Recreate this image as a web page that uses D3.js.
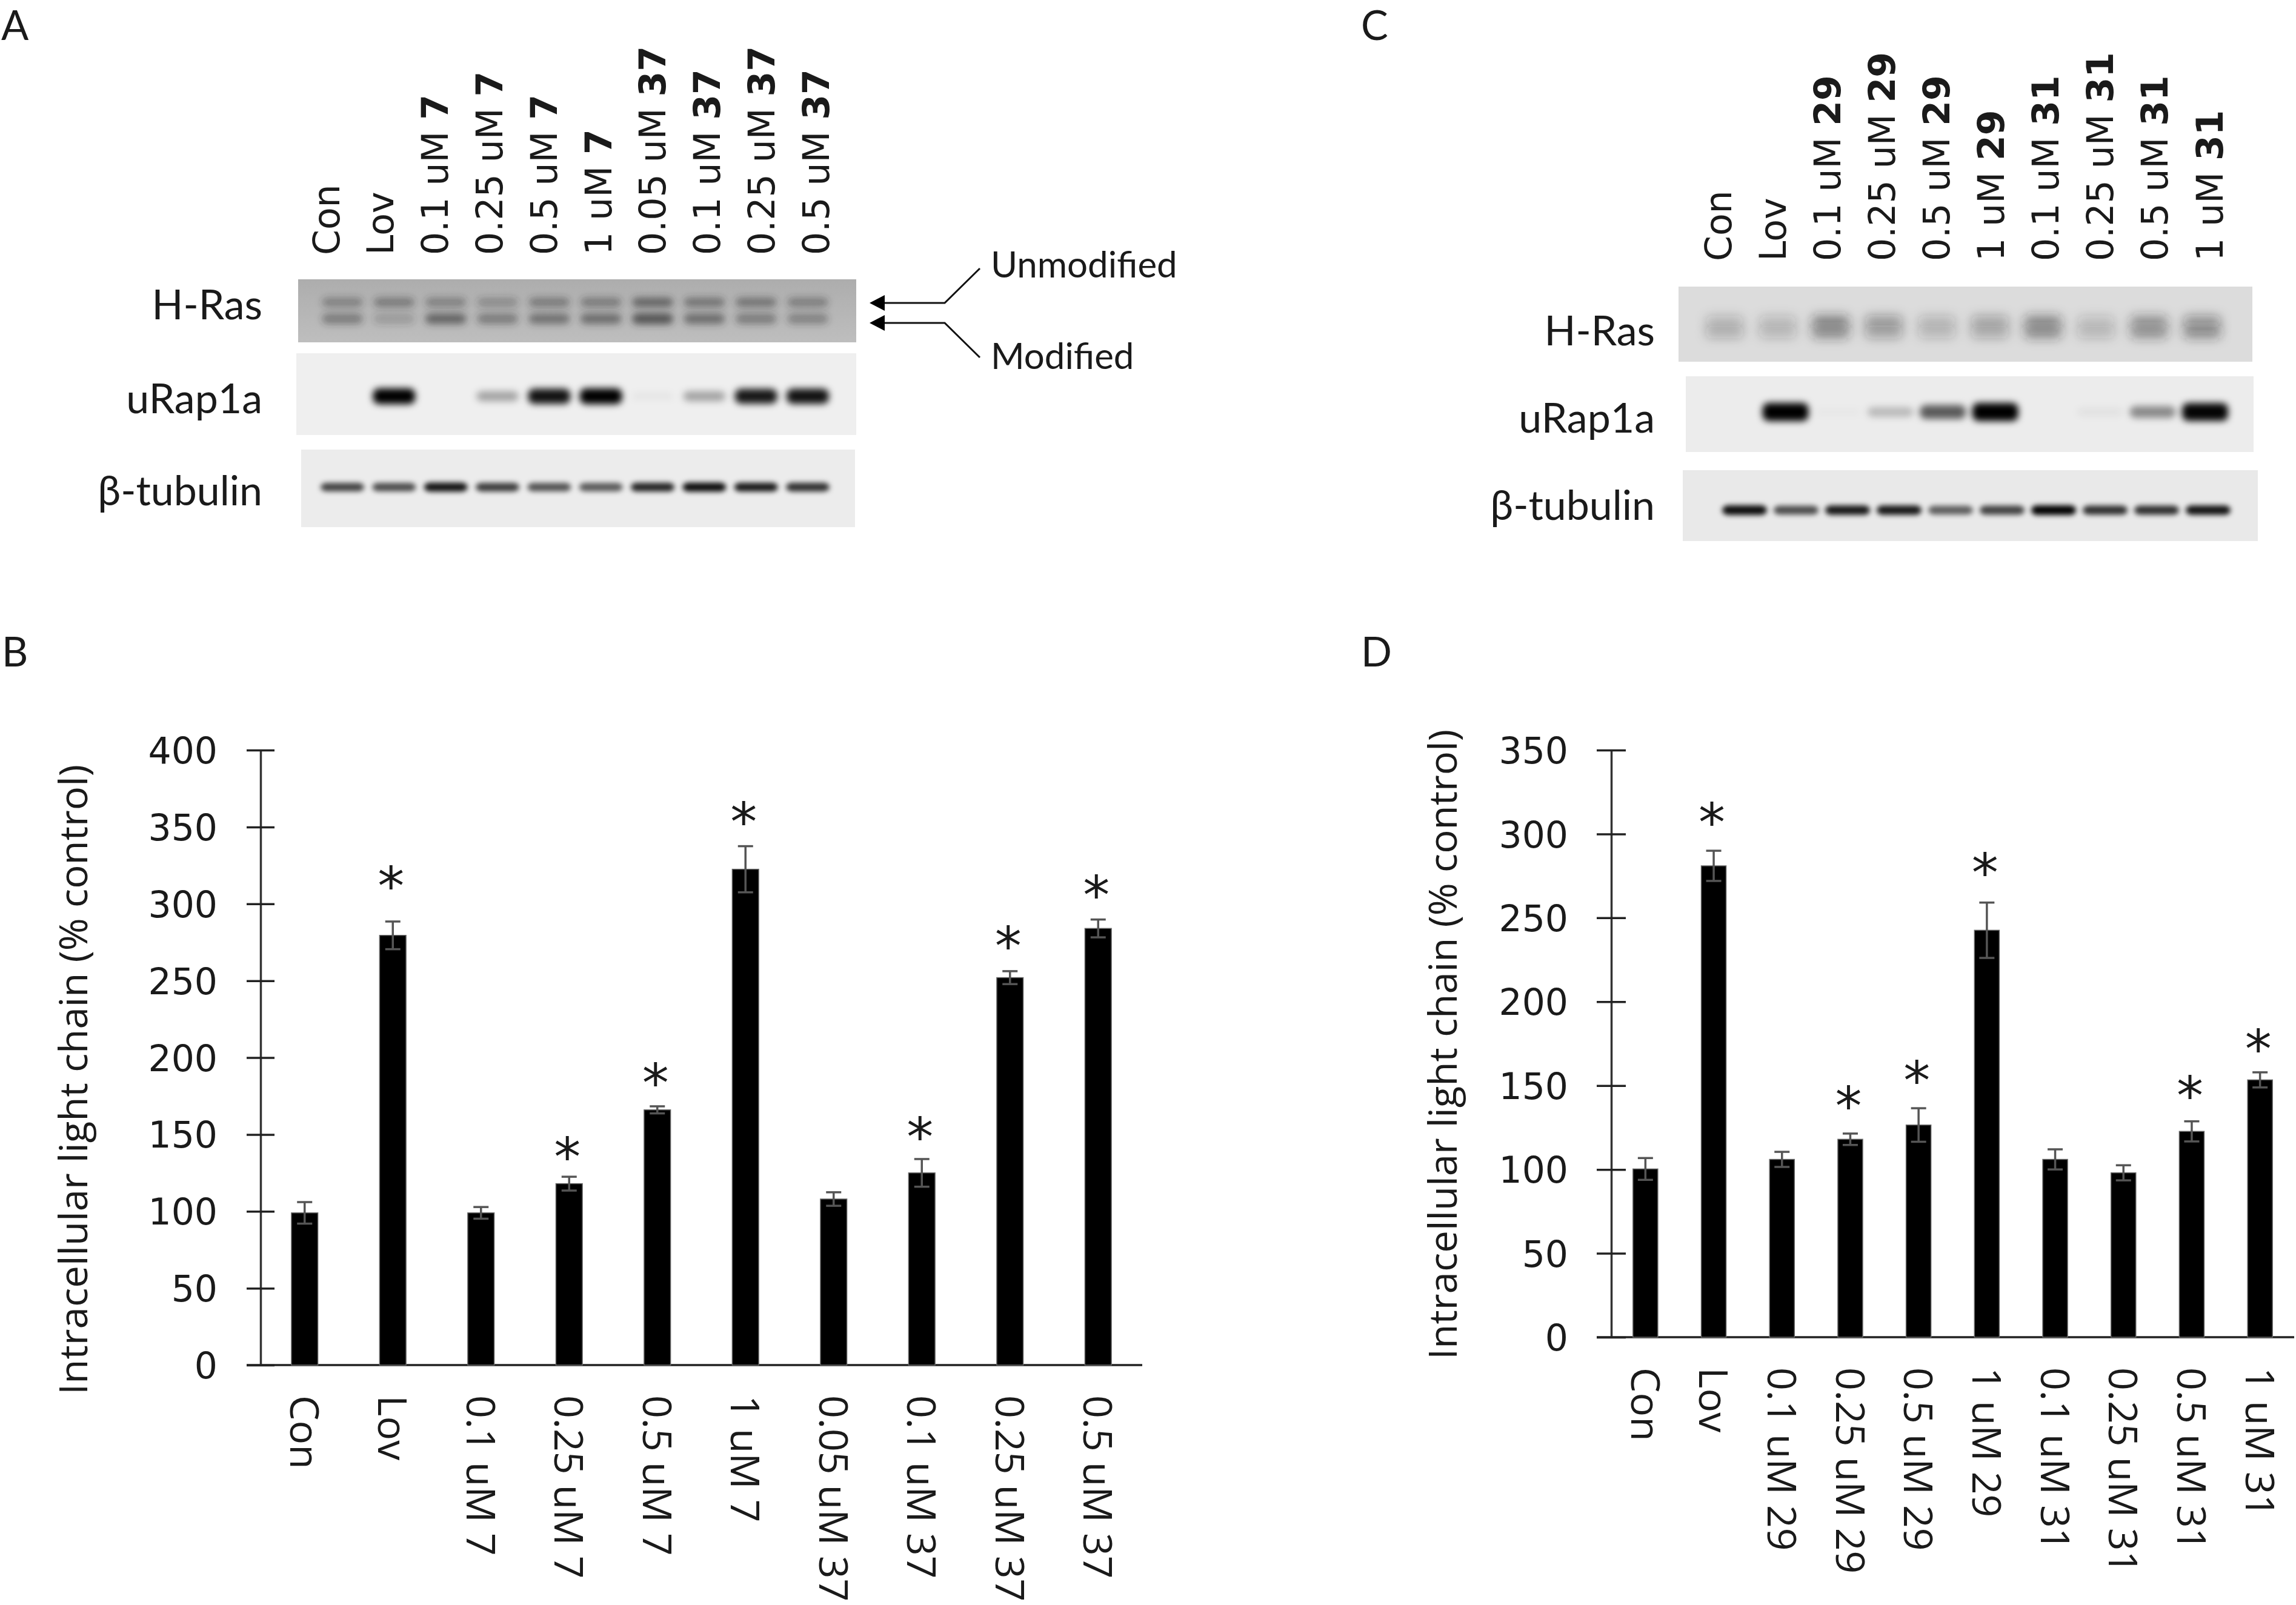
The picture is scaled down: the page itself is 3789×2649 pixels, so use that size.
<!DOCTYPE html>
<html><head><meta charset="utf-8">
<script src="https://cdn.jsdelivr.net/npm/d3@7"></script>
<style>html,body{margin:0;padding:0;background:#fff}svg{display:block}text{fill:#1a1a1a}</style>
</head><body><div id="c"></div>
<script>
// ---- Panel B data
const catsB=["Con","Lov","0.1 uM 7","0.25 uM 7","0.5 uM 7","1 uM 7","0.05 uM 37","0.1 uM 37","0.25 uM 37","0.5 uM 37"];
const valsB=[99,279.5,99,118,166,322.5,108,125,252,284];
const errsB=[7,9,3.8,4.5,2.3,15,4.4,9,4.2,5.8];
const starsB=[null,316,null,140,188,358,null,153,277,310];
const ticksB=[0,50,100,150,200,250,300,350,400];
// ---- Panel D data
const catsD=["Con","Lov","0.1 uM 29","0.25 uM 29","0.5 uM 29","1 uM 29","0.1 uM 31","0.25 uM 31","0.5 uM 31","1 uM 31"];
const valsD=[100.3,281,106,118,126.5,242.6,106,98,122.7,153.4];
const errsD=[6.5,9,4.5,3.4,10,16.5,6,4.5,6,4.5];
const starsD=[null,311,null,142,157,281,null,null,148,176];
const ticksD=[0,50,100,150,200,250,300,350];
// ---- Blot lane headers (number part is bold)
const lanesA=[["Con",""],["Lov",""],["0.1 uM ","7"],["0.25 uM ","7"],["0.5 uM ","7"],["1 uM ","7"],["0.05 uM ","37"],["0.1 uM ","37"],["0.25 uM ","37"],["0.5 uM ","37"]];
const lanesC=[["Con",""],["Lov",""],["0.1 uM ","29"],["0.25 uM ","29"],["0.5 uM ","29"],["1 uM ","29"],["0.1 uM ","31"],["0.25 uM ","31"],["0.5 uM ","31"],["1 uM ","31"]];
// ---- Blot band intensities, one per lane
const hrasUpperA=[.38,.42,.38,.3,.42,.42,.6,.48,.48,.4];
const hrasLowerA=[.42,.22,.6,.42,.52,.55,.72,.55,.42,.38];
const rapA=[0,1,0,.32,.92,1,.04,.32,.9,.92];
const tubA=[.72,.68,.92,.75,.65,.62,.85,.95,.9,.8];
const hrasUpperC=[.2,.18,.45,.34,.2,.28,.42,.16,.38,.36];
const hrasLowerC=[.24,.2,.42,.3,.2,.26,.42,.2,.4,.42];
const rapC=[0,1,.02,.22,.62,1,0,.05,.42,.98];
const tubC=[.95,.68,.9,.9,.6,.72,1,.8,.8,.92];

const FONT="'Open Sans'",CAL="Lato",WIDE="'DejaVu Sans'";
const svg=d3.select("#c").append("svg").attr("width",3789).attr("height",2649).attr("viewBox","0 0 3789 2649");
const defs=svg.append("defs");
[["b4",4],["b6",6],["b9",9]].forEach(([id,s])=>{
  defs.append("filter").attr("id",id).attr("x","-40%").attr("y","-100%").attr("width","180%").attr("height","300%")
    .append("feGaussianBlur").attr("stdDeviation",s);
});
const grad=defs.append("linearGradient").attr("id","hras").attr("x1",0).attr("x2",0).attr("y1",0).attr("y2",1);
grad.append("stop").attr("offset",0).attr("stop-color","#adadad");
grad.append("stop").attr("offset",1).attr("stop-color","#bebebe");

function panelLetter(t,x,y){
  svg.append("text").text(t).attr("x",x).attr("y",y).attr("font-family",CAL).attr("font-size",67);
}
panelLetter("A",2,66);panelLetter("C",2246,66);panelLetter("B",3,1100);panelLetter("D",2246,1100);

function barChart(o){
  const g=svg.append("g");
  const x=d3.scaleBand().domain(o.cats).range([o.left,o.right]).paddingInner(o.pad).paddingOuter(o.pad/2);
  const y=d3.scaleLinear().domain([0,o.max]).range([o.bottom,o.top]);
  const rows=o.cats.map((c,i)=>({c,v:o.vals[i],e:o.errs[i],s:o.stars[i]}));
  const ya=g.append("g").attr("transform",`translate(${o.left},0)`)
    .call(d3.axisLeft(y).tickValues(o.ticks).tickFormat(d3.format("d")).tickSize(o.tick).tickPadding(0).tickSizeOuter(0));
  ya.select(".domain").attr("stroke","#333").attr("stroke-width",3.5);
  ya.selectAll(".tick line").attr("x1",o.tick).attr("x2",-o.tick).attr("stroke","#222").attr("stroke-width",3.5);
  ya.selectAll(".tick text").attr("x",o.labelX-o.left).attr("dy","0.36em").attr("font-family",WIDE).attr("font-size",60).attr("fill","#1a1a1a");
  const xa=g.append("g").attr("transform",`translate(0,${o.bottom})`)
    .call(d3.axisBottom(x).tickSize(0).tickSizeOuter(0));
  xa.select(".domain").remove();
  xa.selectAll(".tick text").attr("transform",`translate(0,${o.xlab}) rotate(90)`)
    .attr("x",0).attr("y",0).attr("dy","0.36em").attr("text-anchor","start")
    .attr("font-family",FONT).attr("font-size",66).attr("fill","#1a1a1a");
  g.append("line").attr("x1",o.left-o.tick).attr("x2",o.right).attr("y1",o.bottom).attr("y2",o.bottom).attr("stroke","#222").attr("stroke-width",3.5);
  g.selectAll("rect.bar").data(rows).join("rect").attr("class","bar")
    .attr("x",d=>x(d.c)).attr("width",x.bandwidth()).attr("y",d=>y(d.v)).attr("height",d=>o.bottom-y(d.v))
    .attr("fill","#000").attr("stroke","#666").attr("stroke-width",1.5);
  const cx=d=>x(d.c)+x.bandwidth()/2;
  const eb=g.selectAll("g.err").data(rows).join("g").attr("class","err").attr("stroke","#555").attr("stroke-width",3.5);
  eb.append("line").attr("x1",cx).attr("x2",cx).attr("y1",d=>y(d.v+d.e)).attr("y2",d=>y(d.v-d.e));
  eb.append("line").attr("x1",d=>cx(d)-12.5).attr("x2",d=>cx(d)+12.5).attr("y1",d=>y(d.v+d.e)).attr("y2",d=>y(d.v+d.e));
  eb.append("line").attr("x1",d=>cx(d)-12.5).attr("x2",d=>cx(d)+12.5).attr("y1",d=>y(d.v-d.e)).attr("y2",d=>y(d.v-d.e));
  g.selectAll("text.star").data(rows.filter(d=>d.s!=null)).join("text").attr("class","star")
    .text("*").attr("text-anchor","middle").attr("x",d=>cx(d)-3).attr("y",d=>y(d.s)+42)
    .attr("font-family",WIDE).attr("font-size",88);
  g.append("text").text("Intracellular light chain (% control)")
    .attr("transform",`translate(${o.titleX},${o.titleY}) rotate(-90)`).attr("text-anchor","middle").attr("dy","0.36em")
    .attr("font-family",FONT).attr("font-size",64)
    .attr("textLength",1040).attr("lengthAdjust","spacingAndGlyphs");
}
barChart({cats:catsB,vals:valsB,errs:errsB,stars:starsB,ticks:ticksB,max:400,left:430,right:1885,top:1238,bottom:2253,pad:.7,tick:23,labelX:359,xlab:50,titleX:121,titleY:1782});
barChart({cats:catsD,vals:valsD,errs:errsD,stars:starsD,ticks:ticksD,max:350,left:2659,right:3786,top:1238,bottom:2207,pad:.636,tick:24,labelX:2588,xlab:50,titleX:2381,titleY:1724});

function laneHeaders(lanes,x0,step,base){
  const x=d3.scaleLinear().domain([0,lanes.length-1]).range([x0,x0+step*(lanes.length-1)]);
  const t=svg.append("g").selectAll("text").data(lanes).join("text")
    .attr("transform",(d,i)=>`translate(${x(i)},${base}) rotate(-90)`).attr("dy","0.36em")
    .attr("font-family",WIDE).attr("font-size",60);
  t.append("tspan").text(d=>d[0]);
  t.append("tspan").attr("font-weight",700).text(d=>d[1]);
}
laneHeaders(lanesA,538,89.8,421);
laneHeaders(lanesC,2835,90.1,431);

function blot(o){
  const g=svg.append("g");
  g.append("rect").attr("x",o.x0).attr("y",o.y0).attr("width",o.x1-o.x0).attr("height",o.y1-o.y0).attr("fill",o.bg);
  const x=d3.scaleLinear().domain([0,9]).range(o.lane);
  const clipId="c"+o.id;
  defs.append("clipPath").attr("id",clipId).append("rect").attr("x",o.x0).attr("y",o.y0).attr("width",o.x1-o.x0).attr("height",o.y1-o.y0);
  const inner=g.append("g").attr("clip-path",`url(#${clipId})`);
  o.rows.forEach(r=>{
    inner.append("g").attr("filter",`url(#${r.blur})`).selectAll("rect").data(r.values).join("rect")
      .attr("x",(d,i)=>x(i)-o.w/2).attr("width",o.w)
      .attr("y",d=>r.y-(r.h+r.grow*d)/2).attr("height",d=>r.h+r.grow*d)
      .attr("rx",10).attr("fill",r.ink).attr("fill-opacity",d=>d);
  });
  g.append("text").text(o.label).attr("x",o.lx).attr("y",o.ly).attr("dy","0.36em").attr("text-anchor","end")
    .attr("font-family",CAL).attr("font-size",68);
}
blot({id:"a1",x0:492,x1:1413,y0:461,y1:565,bg:"url(#hras)",lane:[565,1333],w:68,label:"H-Ras",lx:433,ly:503,
  rows:[{values:hrasUpperA,y:499,h:15,grow:2,blur:"b6",ink:"#333"},{values:hrasLowerA,y:526,h:17,grow:2,blur:"b6",ink:"#333"}]});
blot({id:"a2",x0:489,x1:1413,y0:583,y1:718,bg:"#efefef",lane:[565,1333],w:70,label:"uRap1a",lx:433,ly:658,
  rows:[{values:rapA,y:654,h:12,grow:14,blur:"b6",ink:"#000"}]});
blot({id:"a3",x0:497,x1:1411,y0:742,y1:870,bg:"#ececec",lane:[565,1333],w:72,label:"\u03b2-tubulin",lx:433,ly:810,
  rows:[{values:tubA,y:804,h:12,grow:3,blur:"b4",ink:"#000"}]});
blot({id:"c1",x0:2770,x1:3717,y0:473,y1:597,bg:"#dcdcdc",lane:[2846,3634],w:64,label:"H-Ras",lx:2731,ly:546,
  rows:[{values:hrasUpperC,y:530,h:18,grow:3,blur:"b9",ink:"#222"},{values:hrasLowerC,y:548,h:20,grow:3,blur:"b9",ink:"#222"}]});
blot({id:"c2",x0:2782,x1:3719,y0:621,y1:746,bg:"#ececec",lane:[2860,3639],w:76,label:"uRap1a",lx:2731,ly:690,
  rows:[{values:rapC,y:680,h:12,grow:18,blur:"b6",ink:"#000"}]});
blot({id:"c3",x0:2777,x1:3726,y0:776,y1:893,bg:"#e9e9e9",lane:[2879,3644],w:74,label:"\u03b2-tubulin",lx:2731,ly:834,
  rows:[{values:tubC,y:842,h:12,grow:4,blur:"b4",ink:"#000"}]});

const ann=svg.append("g");
[[500,443,"Unmodified",436],[533,590,"Modified",587]].forEach(([y,ye,t,ty])=>{
  ann.append("path").attr("d",d3.line()([[1450,y],[1559,y],[1617,ye]])).attr("fill","none").attr("stroke","#111").attr("stroke-width",3);
  ann.append("path").attr("d",d3.line()([[1435,y],[1460,y-13],[1460,y+13]])+"Z").attr("fill","#000");
  ann.append("text").text(t).attr("x",1635).attr("y",ty).attr("dy","0.36em").attr("font-family",CAL).attr("font-size",60);
});
</script></body></html>
